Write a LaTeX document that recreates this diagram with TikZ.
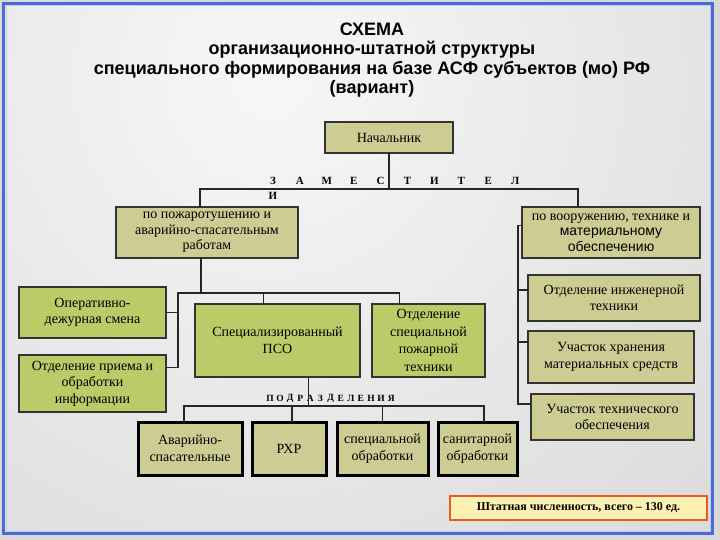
\documentclass[tikz,border=0pt]{standalone}
\usepackage{fontspec}
\setmainfont{Liberation Serif}
\setsansfont{Liberation Sans}
\usetikzlibrary{positioning,calc}
\definecolor{boxkhaki}{RGB}{205,204,147}
\definecolor{boxgreen}{RGB}{187,203,104}
\definecolor{frameblue}{RGB}{72,108,212}
\definecolor{totalfill}{RGB}{255,241,178}
\definecolor{totaldraw}{RGB}{228,92,36}
\tikzset{
  unit/.style={
    draw=black!80, line width=1.2pt, fill=boxkhaki,
    align=center, inner sep=2pt, outer sep=0pt,
    font=\fontsize{14}{16.5}\selectfont
  },
  unitg/.style={unit, fill=boxgreen},
  subunit/.style={unit, draw=black, line width=3pt},
  link/.style={draw=black!85, line width=1.1pt},
  spaced/.style={inner sep=0pt, font=\bfseries\fontsize{11}{13}\selectfont},
}

\begin{document}
\begin{tikzpicture}[x=1pt,y=-1pt,
        title/.style={align=center, font=\sffamily\bfseries\fontsize{18}{19.2}\selectfont},
        total/.style={draw=totaldraw, line width=2pt, fill=totalfill,
          minimum width=257pt, minimum height=24pt, inner sep=1pt,
          font=\bfseries\fontsize{12}{14}\selectfont}]
        \useasboundingbox (0,0) rectangle (720,540);

        % Background
        \fill[gray!30] (0,0) rectangle (720,540);
        \begin{scope}
          \clip (3,3) rectangle (713,533);
          \shade[inner color=gray!6, outer color=gray!50] (270,80) circle (1240pt);
        \end{scope}
        \draw[frameblue, line width=2.5pt] (3.5,3.5) rectangle (712.5,533.5);
        \draw[frameblue!35, line width=1pt] (6,6) rectangle (710,531);

        % Title
        \node[title] (head) at (372,60) {СХЕМА\\
          организационно-штатной структуры\\
          специального формирования на базе АСФ субъектов (мо) РФ\\
          (вариант)};

        % Boxes
        \node[unit, minimum width=128pt, minimum height=31pt] (chief) at (389,137.5) {Начальник};
        \node[unit, minimum width=182pt, minimum height=51pt, font=\fontsize{14}{15.5}\selectfont] (depfire) at (207,232.5)
          {по пожаротушению и\\аварийно-спасательным\\работам};
        \node[unit, minimum width=178pt, minimum height=51pt, font=\fontsize{14}{15.5}\selectfont] (deparm) at (611,232.5)
          {по вооружению, технике и\\{\sffamily материальному}\\{\sffamily обеспечению}};

        \node[unitg, minimum width=147pt, minimum height=51pt] (duty) at (92.5,312.5)
          {Оперативно-\\дежурная смена};
        \node[unitg, minimum width=147pt, minimum height=57pt] (info) at (92.5,383.5)
          {Отделение приема и\\обработки\\информации};
        \node[unitg, minimum width=165pt, minimum height=73pt] (pso) at (277.5,340.5)
          {Специализированный\\ПСО};
        \node[unitg, minimum width=113pt, minimum height=73pt, font=\fontsize{14}{17.5}\selectfont] (firetech) at (428.5,340.5)
          {Отделение\\специальной\\пожарной\\техники};

        \node[unit, minimum width=172pt, minimum height=46pt] (engin) at (614,298)
          {Отделение инженерной\\техники};
        \node[unit, minimum width=166pt, minimum height=52pt] (store) at (611,357)
          {Участок хранения\\материальных средств};
        \node[unit, minimum width=163pt, minimum height=46pt] (techsup) at (612.5,417)
          {Участок технического\\обеспечения};

        \node[subunit, minimum width=104pt, minimum height=53pt] (rescue) at (190,448.5)
          {Аварийно-\\спасательные};
        \node[subunit, minimum width=74pt, minimum height=53pt] (rhr) at (289,448.5) {РХР};
        \node[subunit, minimum width=91pt, minimum height=53pt] (decon) at (382.5,448.5)
          {специальной\\обработки};
        \node[subunit, minimum width=79pt, minimum height=53pt] (sanit) at (477.5,448.5)
          {санитарной\\обработки};

        \node[total] (staff) at (578.5,508) {Штатная численность, всего -- 130 ед.};

        % Spaced labels
        \foreach \ch [count=\i from 0] in {З,А,М,Е,С,Т,И,Т,Е,Л}
          \node[spaced] (zam\i) at (273+26.9*\i,181) {\ch};
        \node[spaced] (zam10) at (273,196) {И};
        \foreach \ch [count=\i from 0] in {П,О,Д,Р,А,З,Д,Е,Л,Е,Н,И,Я}
          \node[spaced, font=\bfseries\fontsize{9.5}{11}\selectfont] (sub\i) at (270+10.1*\i,398) {\ch};

        % Lines
        \coordinate (zbus) at (0,189);
        \coordinate (firedrop) at ([xshift=-7pt]depfire.north);
        \coordinate (armdrop) at ([xshift=-33pt]deparm.north);
        \draw[link] (chief.south) -- (chief.south |- zbus);
        \draw[link] (firedrop) |- (armdrop |- zbus) -- (armdrop);

        \draw[link] ([yshift=7pt]deparm.west) -- ++(-4,0) |- ([yshift=13pt]techsup.west);
        \draw[link] ([yshift=8pt]engin.west) -- ++(-10,0);
        \draw[link] ([yshift=15pt]store.west) -- ++(-10,0);

        \coordinate (lbus) at (178,293);
        \coordinate (firefoot) at ([xshift=-6pt]depfire.south);
        \coordinate (psotop) at ([xshift=-14pt]pso.north);
        \coordinate (techtop) at ([xshift=-29pt]firetech.north);
        \draw[link] (firefoot) -- (firefoot |- lbus);
        \draw[link] ([yshift=16pt]info.east) -| (lbus) -| (techtop);
        \draw[link] (duty.east) -- (duty.east -| lbus);
        \draw[link] (psotop) -- (psotop |- lbus);

        \coordinate (pbus) at (0,406);
        \coordinate (psofoot) at ([xshift=31pt]pso.south);
        \coordinate (d1) at ([xshift=-6pt]rescue.north);
        \coordinate (d2) at ([xshift=3pt]rhr.north);
        \coordinate (d3) at (decon.north);
        \coordinate (d4) at ([xshift=6.5pt]sanit.north);
        \draw[link] (psofoot) -- (psofoot |- pbus);
        \draw[link] (d1) |- (pbus -| d4) -- (d4);
        \foreach \d in {d2,d3}
          \draw[link] (\d) -- (\d |- pbus);

      \end{tikzpicture}
\end{document}
